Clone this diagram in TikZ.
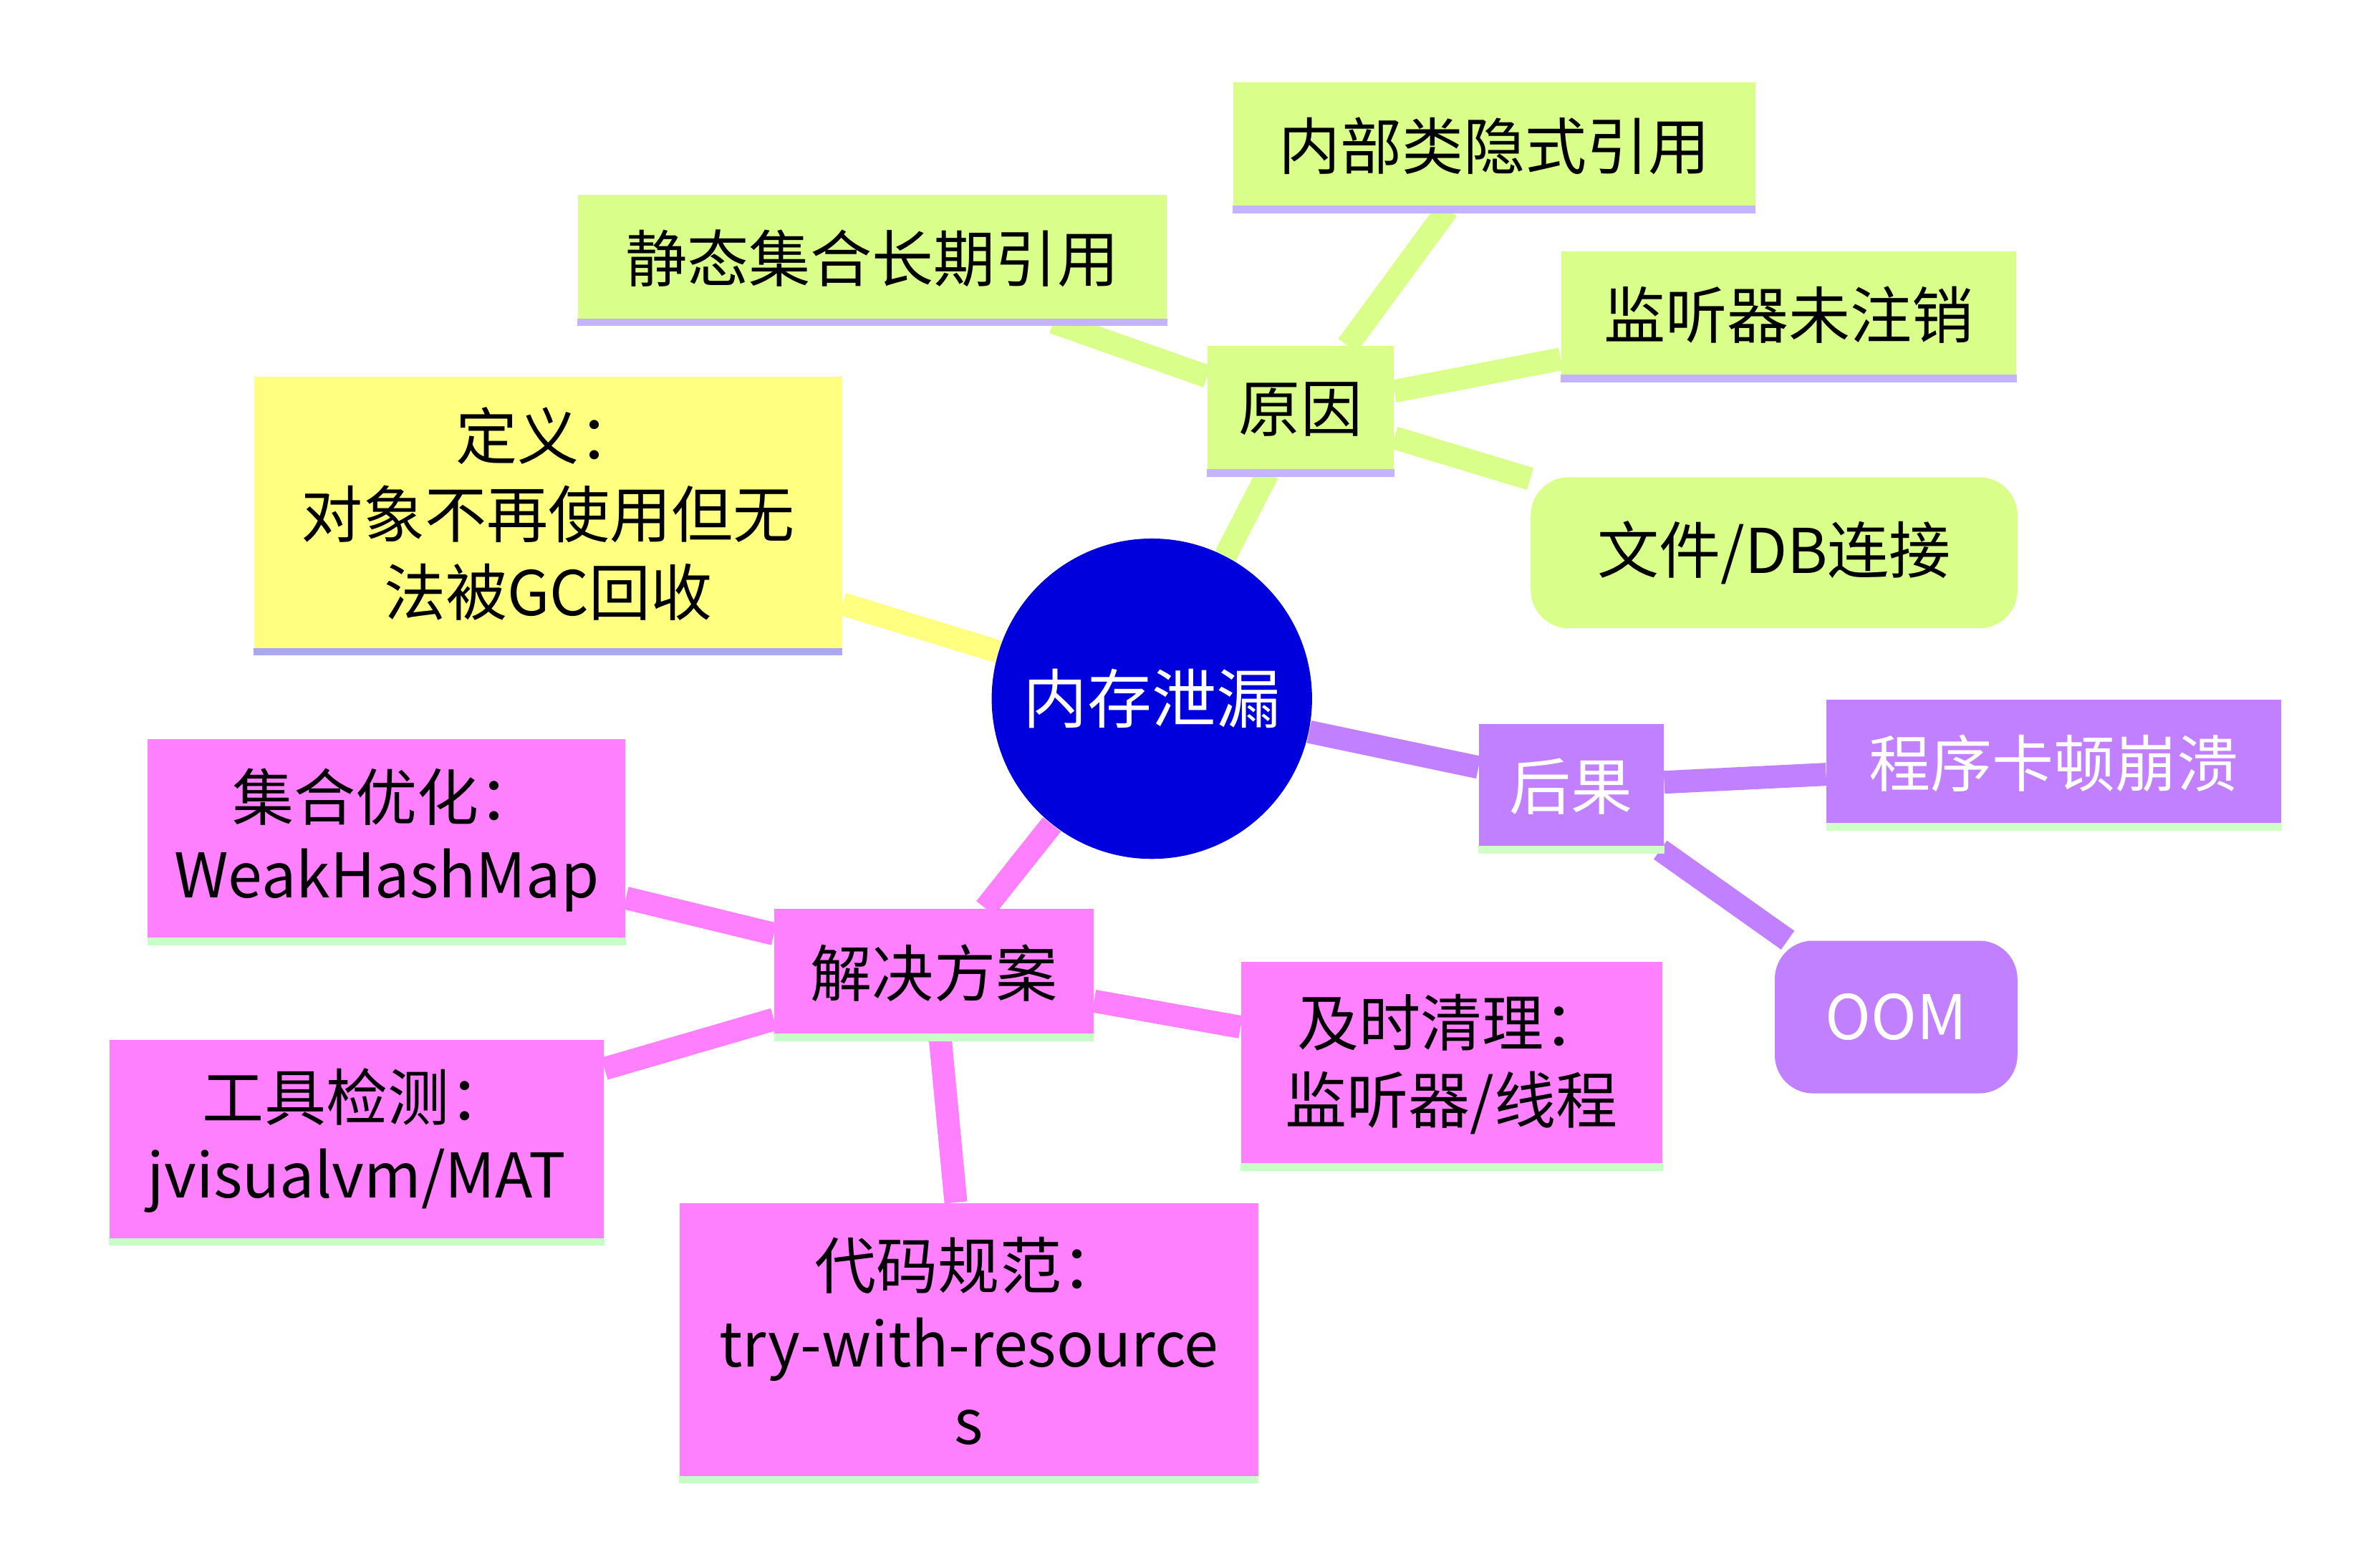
\documentclass[tikz,border=0pt]{standalone}
\usepackage{fontspec}
\setmainfont{Noto Sans CJK SC}
\usetikzlibrary{backgrounds}
\definecolor{gA}{HTML}{D9FF8A}
\definecolor{gL}{HTML}{C4B4FF}
\definecolor{yA}{HTML}{FFFF80}
\definecolor{yL}{HTML}{A8A8F0}
\definecolor{pA}{HTML}{C080FF}
\definecolor{pL}{HTML}{D0FFC8}
\definecolor{kA}{HTML}{FF80FF}
\definecolor{kL}{HTML}{C8FFC8}
\definecolor{cB}{HTML}{0000DD}
\tikzset{
 box/.style={inner sep=0pt,align=center,font=\fontsize{23}{29}\selectfont},
 grn/.style={box,fill=gA,text=black},
 yel/.style={box,fill=yA,text=black},
 pur/.style={box,fill=pA,text=white},
 pnk/.style={box,fill=kA,text=black},
 rnd/.style={rounded corners=0.5cm},
 edge/.style={line width=0.3cm},
 bl/.style={line width=0.1cm}
}
\newcommand\mkbox[7]{\node[#6,minimum width={(#4-#2)*0.02cm},minimum height={(#5-#3)*0.02cm}] (#1) at ({(#2+#4)*0.01},{-(#3+#5)*0.01}) {#7};}
\begin{document}
\begin{tikzpicture}
\useasboundingbox (0,0) rectangle (31.2,-20.34);
\node[circle,fill=cB,minimum size=4.2cm,inner sep=0pt,text=white,font=\fontsize{24}{29}\selectfont] (c) at (15.1,-9.16) {内存泄漏};
\mkbox{yy}{792}{227}{914}{310}{grn}{原因}
\mkbox{y1}{809}{54}{1151}{137}{grn}{内部类隐式引用}
\mkbox{y2}{379}{128}{765}{211}{grn}{静态集合长期引用}
\mkbox{y3}{1024}{165}{1322}{248}{grn}{监听器未注销}
\mkbox{y4}{1004}{313}{1323}{412}{grn,rnd}{文件/DB连接}
\mkbox{df}{167}{247}{552}{427}{yel}{定义：\\对象不再使用但无\\法被GC回收}
\mkbox{hg}{970}{475}{1091}{557}{pur}{后果}
\mkbox{h1}{1198}{459}{1496}{542}{pur}{程序卡顿崩溃}
\mkbox{h2}{1164}{617}{1323}{717}{pur,rnd}{OOM}
\mkbox{jj}{508}{596}{717}{680}{pnk}{解决方案}
\mkbox{j1}{97}{485}{410}{617}{pnk}{集合优化：\\WeakHashMap}
\mkbox{j2}{72}{682}{396}{814}{pnk}{工具检测：\\jvisualvm/MAT}
\mkbox{j3}{446}{789}{825}{970}{pnk}{代码规范：\\try-with-resource\\s}
\mkbox{j4}{814}{631}{1090}{765}{pnk}{及时清理：\\监听器/线程}
\foreach \n/\cc in {yy/gL,y1/gL,y2/gL,y3/gL,df/yL,hg/pL,h1/pL,jj/kL,j1/kL,j2/kL,j3/kL,j4/kL}
  \draw[bl,\cc] (\n.south west) -- (\n.south east);
\begin{scope}[on background layer]
\draw[edge,gA] (c) -- (yy);
\foreach \n in {y1,y2,y3,y4} \draw[edge,gA] (yy) -- (\n);
\draw[edge,yA] (c) -- (df);
\draw[edge,pA] (c) -- (hg);
\foreach \n in {h1,h2} \draw[edge,pA] (hg) -- (\n);
\draw[edge,kA] (c) -- (jj);
\foreach \n in {j1,j2,j3,j4} \draw[edge,kA] (jj) -- (\n);
\end{scope}
\end{tikzpicture}
\end{document}
